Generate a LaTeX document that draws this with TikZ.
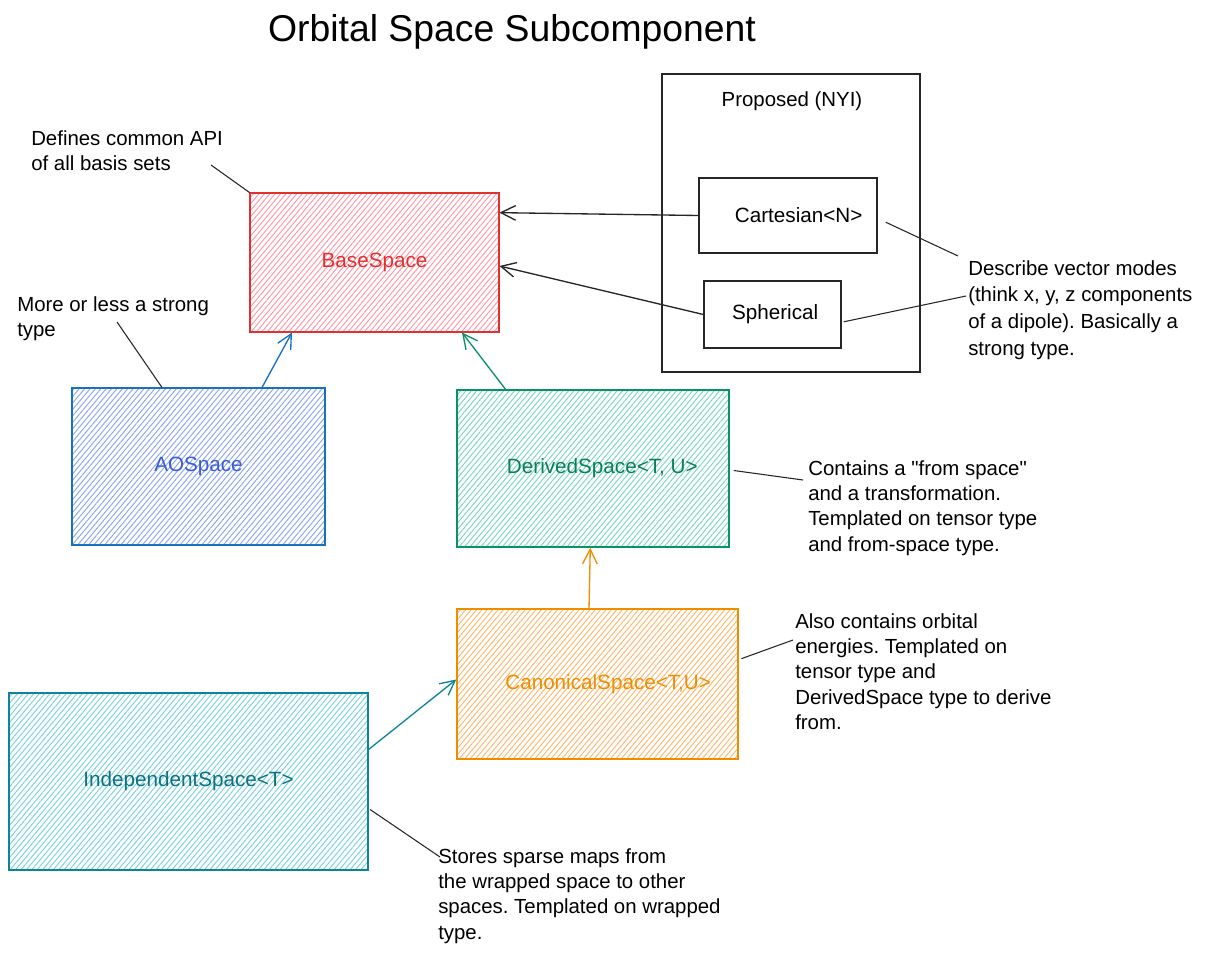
\documentclass[tikz,border=0pt]{standalone}
\usepackage{fontspec}
\setmainfont{Liberation Sans}[Ligatures=TeXOff]
\frenchspacing
\usetikzlibrary{arrows.meta,patterns.meta,calc}
\definecolor{redS}{HTML}{E03131}\definecolor{redH}{HTML}{FF99AA}
\definecolor{bluS}{HTML}{1971C2}\definecolor{bluT}{HTML}{3B5BDB}\definecolor{bluH}{HTML}{90A8F0}
\definecolor{grnS}{HTML}{099268}\definecolor{grnT}{HTML}{087F5B}\definecolor{grnH}{HTML}{7ED9BC}
\definecolor{orgS}{HTML}{F08C00}\definecolor{orgH}{HTML}{FFB870}
\definecolor{tealS}{HTML}{0C8599}\definecolor{tealT}{HTML}{0B7285}\definecolor{tealH}{HTML}{7ED3E0}
\begin{document}
\begin{tikzpicture}[x=0.75pt,y=-0.75pt,
  every node/.style={inner sep=0pt},
  hbox/.style n args={3}{draw=#1,line width=1.1pt,text=#2,
     pattern={Lines[angle=50,distance=3.1pt,line width=0.75pt]},pattern color=#3,
     font=\fontsize{15.5}{18}\selectfont},
  pbox/.style={draw=black!85,line width=1pt,font=\fontsize{15.5}{18}\selectfont},
  note/.style={anchor=north west,align=left,font=\fontsize{15.3}{19}\selectfont},
  notewide/.style={note,font=\fontsize{15.3}{20.2}\selectfont},
  conn/.style={line width=1pt,-{Straight Barb[length=11pt,width=11pt,line width=1pt]}},
  lead/.style={line width=0.8pt,draw=black!85}]
\useasboundingbox (0,0) rectangle (1220,959);

% title
\node (title) at (512,32) {\fontsize{28}{32}\selectfont Orbital Space Subcomponent};

% proposed container
\node[pbox,minimum width=193.5pt,minimum height=223.5pt] (prop) at (791,223) {};
\node[font=\fontsize{15.3}{18}\selectfont] (proplbl) at (792,101) {Proposed (NYI)};
\node[pbox,minimum width=133.5pt,minimum height=56.25pt] (cart) at (788,215.5) {\hspace*{16pt}Cartesian<N>};
\node[pbox,minimum width=102.75pt,minimum height=50.25pt] (sph) at (772.5,314.5) {\hspace*{4pt}Spherical};

% hatched boxes
\node[hbox={redS}{redS}{redH},minimum width=186.75pt,minimum height=104.25pt] (base) at (374.5,262.5) {BaseSpace};
\node[hbox={bluS}{bluT}{bluH},minimum width=189.75pt,minimum height=117.75pt] (ao) at (198.5,466.5) {AOSpace};
\node[hbox={grnS}{grnT}{grnH},minimum width=204pt,minimum height=117.75pt] (der) at (593,468.5) {\hspace*{14pt}DerivedSpace<T, U>};
\node[hbox={orgS}{orgS}{orgH},minimum width=210.75pt,minimum height=112.5pt] (can) at (597.5,684) {\hspace*{16pt}CanonicalSpace<T,U>};
\node[hbox={tealS}{tealT}{tealH},minimum width=269.25pt,minimum height=132.75pt] (ind) at (188.5,781.5) {IndependentSpace<T>};

% connectors
\draw[conn,black!85] (cart.west) -- ($(base.north east)!0.144!(base.south east)$);
\draw[conn,black!85] (sph.west) -- ($(base.north east)!0.525!(base.south east)$);
\draw[conn,bluS] ($(ao.north west)!0.75!(ao.north east)$) -- ($(base.south west)!0.17!(base.south east)$);
\draw[conn,grnS] ($(der.north west)!0.18!(der.north east)$) -- ($(base.south west)!0.85!(base.south east)$);
\draw[conn,orgS] ($(can.north west)!0.47!(can.north east)$) -- ($(der.south west)!0.49!(der.south east)$);
\draw[conn,tealS] ($(ind.north east)!0.32!(ind.south east)$) -- ($(can.north west)!0.47!(can.south west)$);

% notes
\node[note] (nbase) at (31,130) {Defines common API\\of all basis sets};
\node[note] (nao) at (17,296) {More or less a strong\\type};
\node[notewide] (nvec) at (968,260) {Describe vector modes\\(think x, y, z components\\of a dipole). Basically a\\strong type.};
\node[note] (nder) at (808,460) {Contains a "from space"\\and a transformation.\\Templated on tensor type\\and from-space type.};
\node[note] (ncan) at (795,613) {Also contains orbital\\energies. Templated on\\tensor type and\\DerivedSpace type to derive\\from.};
\node[note] (nind) at (438,848) {Stores sparse maps from\\the wrapped space to other\\spaces. Templated on wrapped\\type.};

% leader lines
\coordinate (lb) at (211,165);
\coordinate (la) at (117,322);
\coordinate (lc) at (958,256);
\coordinate (ls) at (966,296);
\coordinate (ld) at (803,480);
\coordinate (lk) at (793,640);
\coordinate (li) at (440,857);
\draw[lead] (base.north west) -- (lb);
\draw[lead] ($(ao.north west)!0.356!(ao.north east)$) -- (la);
\draw[lead] ([xshift=6pt,yshift=-5pt]cart.east) -- (lc);
\draw[lead] ([xshift=1.5pt,yshift=-5.5pt]sph.east) -- (ls);
\draw[lead] ([xshift=3pt,yshift=-1.5pt]der.east) -- (ld);
\draw[lead] ([xshift=2pt,yshift=19pt]can.east) -- (lk);
\draw[lead] ([xshift=1pt,yshift=-21pt]ind.east) -- (li);
\end{tikzpicture}
\end{document}
